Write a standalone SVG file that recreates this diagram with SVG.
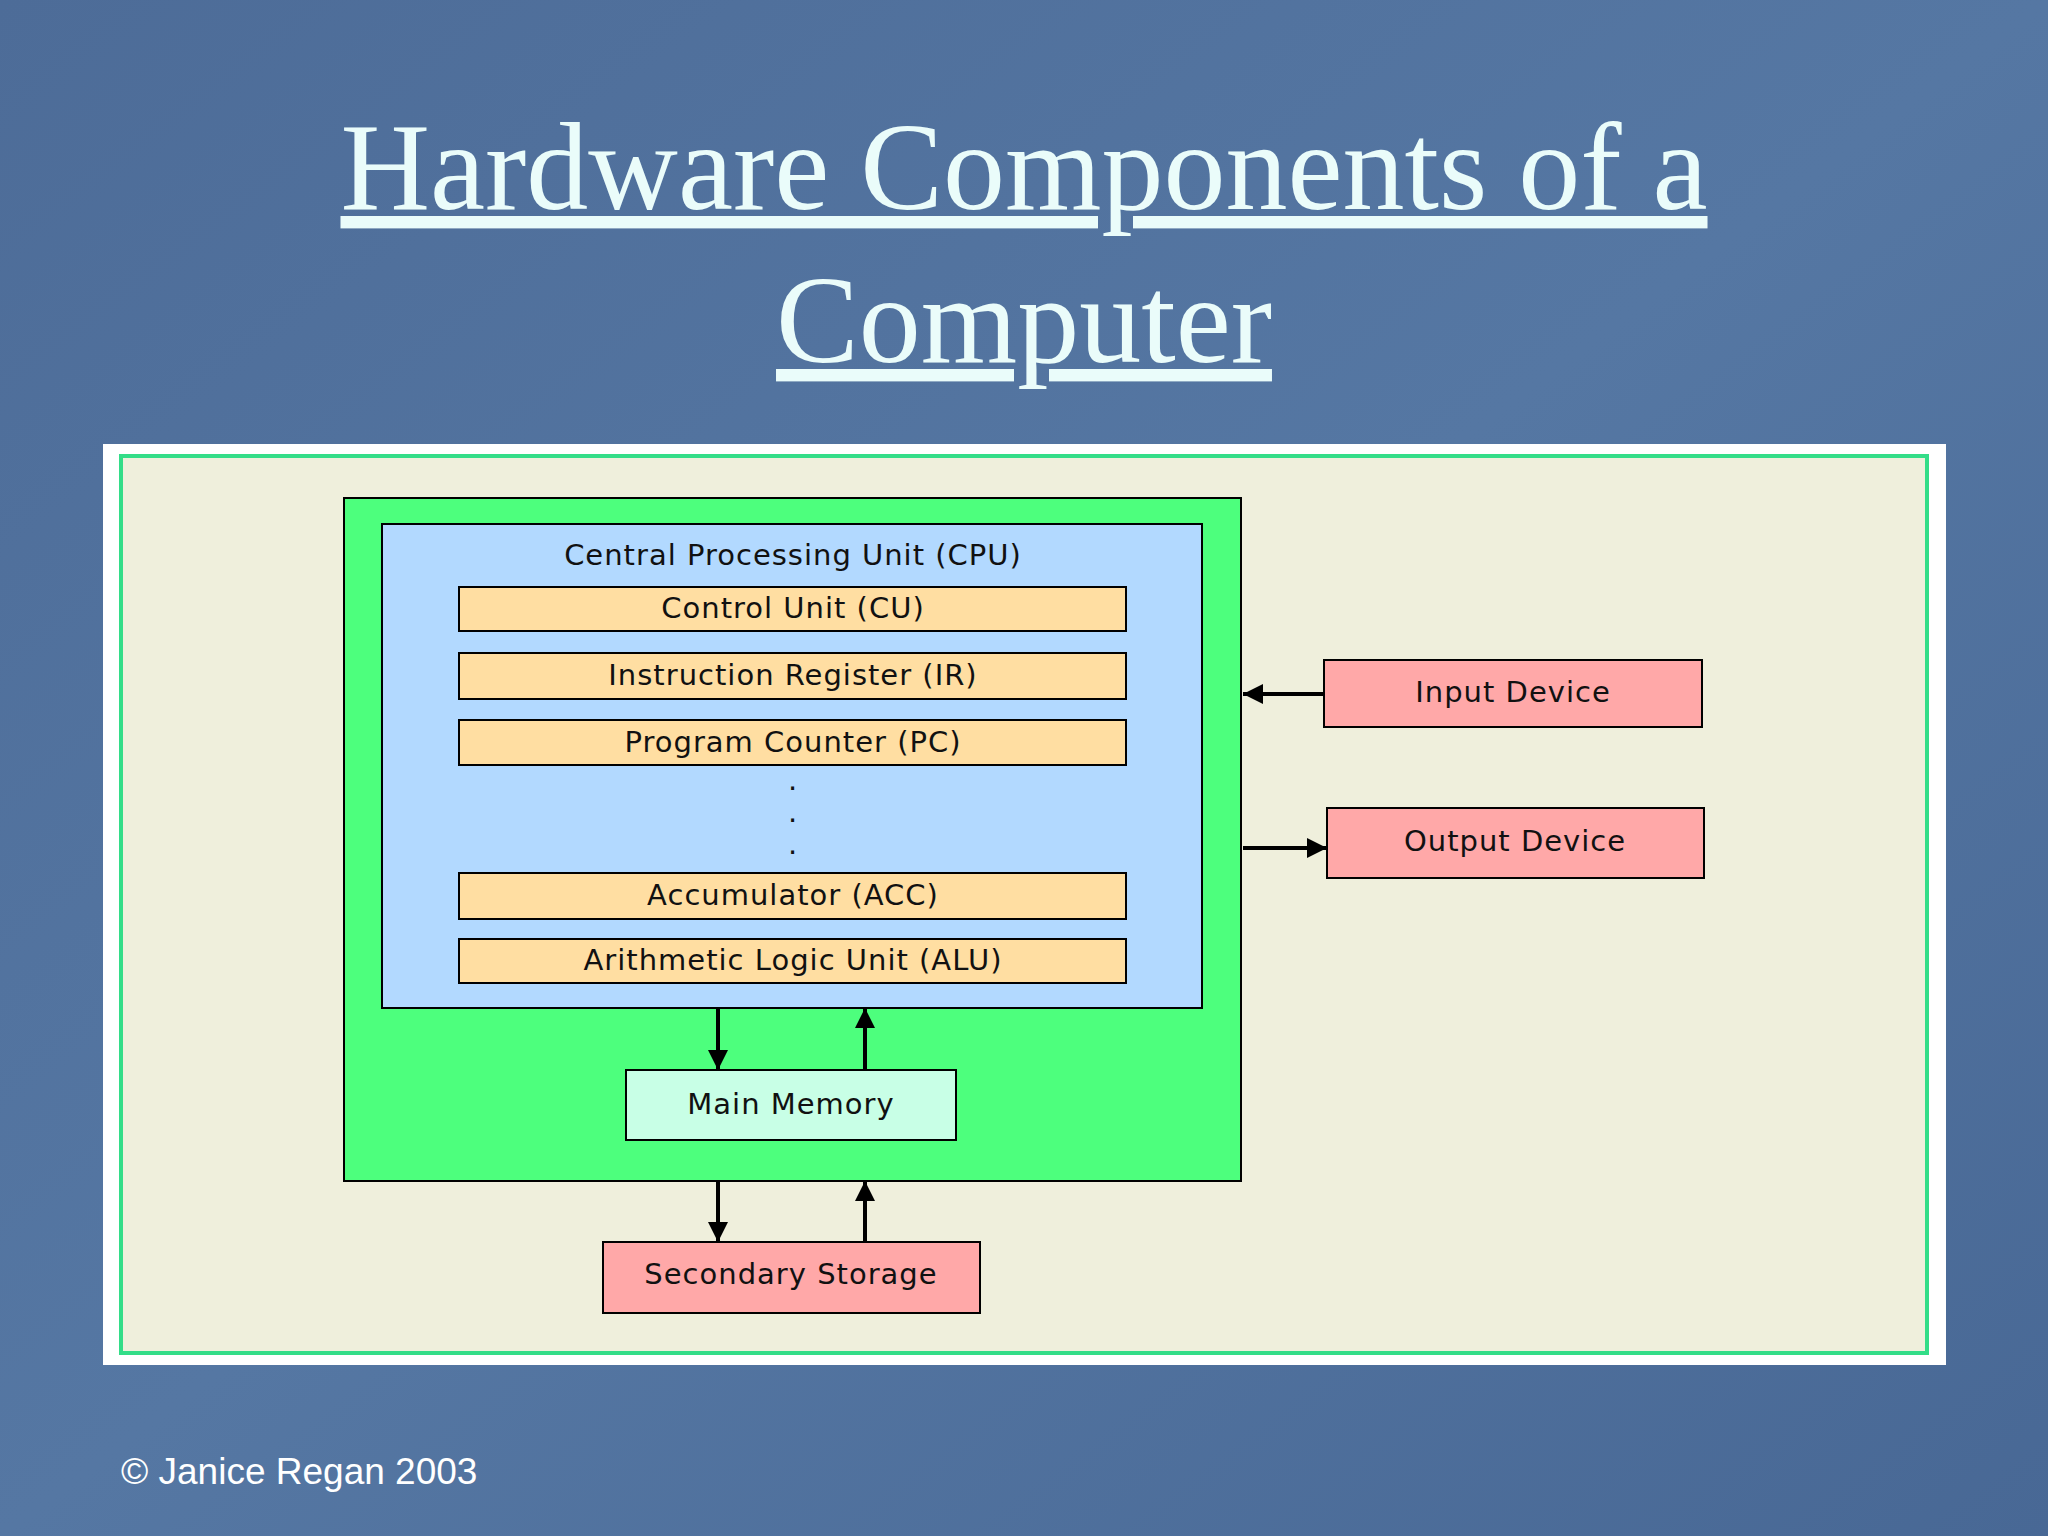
<svg xmlns="http://www.w3.org/2000/svg" width="2048" height="1536" viewBox="0 0 2048 1536">
<defs>
<linearGradient id="bg" x1="0" y1="0" x2="1" y2="1">
<stop offset="0" stop-color="#4d6c98"/><stop offset="0.5" stop-color="#5577a3"/><stop offset="1" stop-color="#486895"/>
</linearGradient>
<marker id="ah" viewBox="0 0 10 10" refX="10" refY="5" markerWidth="10" markerHeight="10" markerUnits="userSpaceOnUse" orient="auto"><path d="M0,0 L10,5 L0,10 z" fill="#000"/></marker>
<marker id="ah2" viewBox="0 0 10 10" refX="10" refY="5" markerWidth="26" markerHeight="20" markerUnits="userSpaceOnUse" orient="auto"><path d="M0,0 L10,5 L0,10 z" fill="#000"/></marker>
</defs>
<style>
.t{font-family:"DejaVu Sans","Noto Sans",sans-serif;font-size:29px;fill:#111;text-anchor:middle;letter-spacing:1px}
.b{stroke:#000;stroke-width:2}
.c{stroke:#000;stroke-width:4;fill:none;marker-end:url(#ah2)}
</style>
<rect width="2048" height="1536" fill="url(#bg)"/>
<g id="title" font-family="Liberation Serif,serif" font-size="124" fill="#eafcfa" text-anchor="middle" text-decoration="underline">
<text x="1024" y="209">Hardware Components of a</text>
<text x="1024" y="362">Computer</text>
</g>
<rect x="103" y="444" width="1843" height="921" fill="#fff"/>
<rect x="121" y="456" width="1806" height="897" fill="#efefdc" stroke="#33dd88" stroke-width="4"/>
<g id="system"><rect class="b" x="344" y="498" width="897" height="683" fill="#4dff7d"/></g>
<g id="cpu"><rect class="b" x="382" y="524" width="820" height="484" fill="#b2d9ff"/>
<text class="t" x="793" y="565">Central Processing Unit (CPU)</text>
<text class="t" x="793" y="790">.</text><text class="t" x="793" y="822">.</text><text class="t" x="793" y="854">.</text></g>
<g id="cu"><rect class="b" x="459" y="587" width="667" height="44" fill="#ffdea2"/><text class="t" x="793" y="618">Control Unit (CU)</text></g>
<g id="ir"><rect class="b" x="459" y="653" width="667" height="46" fill="#ffdea2"/><text class="t" x="793" y="685">Instruction Register (IR)</text></g>
<g id="pc"><rect class="b" x="459" y="720" width="667" height="45" fill="#ffdea2"/><text class="t" x="793" y="752">Program Counter (PC)</text></g>
<g id="acc"><rect class="b" x="459" y="873" width="667" height="46" fill="#ffdea2"/><text class="t" x="793" y="905">Accumulator (ACC)</text></g>
<g id="alu"><rect class="b" x="459" y="939" width="667" height="44" fill="#ffdea2"/><text class="t" x="793" y="970">Arithmetic Logic Unit (ALU)</text></g>
<g id="mm"><rect class="b" x="626" y="1070" width="330" height="70" fill="#c8ffe6"/><text class="t" x="791" y="1114">Main Memory</text></g>
<g id="ss"><rect class="b" x="603" y="1242" width="377" height="71" fill="#ffa8a8"/><text class="t" x="791" y="1284">Secondary Storage</text></g>
<g id="in"><rect class="b" x="1324" y="660" width="378" height="67" fill="#ffa8a8"/><text class="t" x="1513" y="702">Input Device</text></g>
<g id="out"><rect class="b" x="1327" y="808" width="377" height="70" fill="#ffa8a8"/><text class="t" x="1515" y="851">Output Device</text></g>
<g id="connectors">
<path class="c" d="M1324,694 L1243,694"/>
<path class="c" d="M1243,848 L1327,848"/>
<path class="c" d="M718,1008 L718,1070"/>
<path class="c" d="M865,1070 L865,1008"/>
<path class="c" d="M718,1181 L718,1242"/>
<path class="c" d="M865,1242 L865,1181"/>
</g>
<text x="121" y="1484" font-family="Liberation Sans,sans-serif" font-size="37" fill="#fff">© Janice Regan 2003</text>
</svg>
